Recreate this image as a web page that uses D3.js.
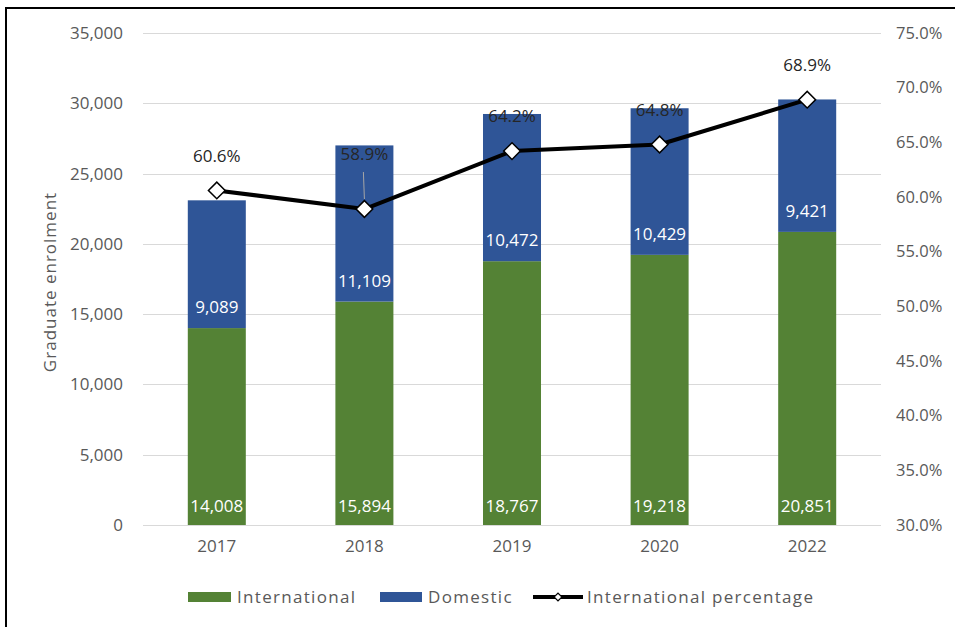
<!DOCTYPE html>
<html>
<head>
<meta charset="utf-8">
<script src="https://cdn.jsdelivr.net/npm/d3@7/dist/d3.min.js"></script>
<style>
  html, body { margin: 0; padding: 0; background: #fff; }
  svg { display: block; font-family: "Open Sans", "Noto Sans", sans-serif; }
</style>
</head>
<body>
<svg id="chart" width="955" height="627"></svg>
<script>
const years = ["2017", "2018", "2019", "2020", "2022"];
const international = [14008, 15894, 18767, 19218, 20851];
const domestic = [9089, 11109, 10472, 10429, 9421];
const intlPct = [60.6, 58.9, 64.2, 64.8, 68.9];
const leftTicks = [0, 5000, 10000, 15000, 20000, 25000, 30000, 35000];
const rightTicks = [30, 35, 40, 45, 50, 55, 60, 65, 70, 75];
const seriesNames = ["International", "Domestic", "International percentage"];

const colors = { intl: "#548235", dom: "#2F5597" };

const svg = d3.select("#chart");
const W = 955, H = 627;
svg.append("rect").attr("width", W).attr("height", H).attr("fill", "#fff");
// frame
svg.append("rect").attr("x", 6).attr("y", 8).attr("width", W + 10).attr("height", H + 10)
  .attr("fill", "none").attr("stroke", "#000").attr("stroke-width", 2);

const plot = { left: 143, right: 881, top: 33, bottom: 525 };

const x = d3.scaleBand().domain(years).range([plot.left, plot.right]).paddingInner(0.607).paddingOuter(0.3035);
const y = d3.scaleLinear().domain([0, 35000]).range([plot.bottom, plot.top]);
const y2 = d3.scaleLinear().domain([30, 75]).range([plot.bottom, plot.top]);

// gridlines
svg.append("g").selectAll("line").data(leftTicks).join("line")
  .attr("x1", plot.left).attr("x2", plot.right)
  .attr("y1", d => Math.round(y(d)) + 0.5).attr("y2", d => Math.round(y(d)) + 0.5)
  .attr("stroke", "#d9d9d9").attr("stroke-width", 1);

// left axis
const fmt = d3.format(",");
const leftAxis = svg.append("g").attr("transform", `translate(${plot.left},0)`)
  .call(d3.axisLeft(y).tickValues(leftTicks).tickFormat(fmt).tickSize(0).tickPadding(20));
leftAxis.select(".domain").remove();
leftAxis.selectAll("text").attr("font-size", 17).attr("fill", "#595959")
  .attr("font-family", "'Open Sans', sans-serif");

// right axis
const rightAxis = svg.append("g").attr("transform", `translate(${plot.right},0)`)
  .call(d3.axisRight(y2).tickValues(rightTicks).tickFormat(d => d3.format(".1f")(d) + "%").tickSize(0).tickPadding(15));
rightAxis.select(".domain").remove();
rightAxis.selectAll("text").attr("font-size", 16.5).attr("fill", "#595959")
  .attr("font-family", "'Open Sans', sans-serif");

// x axis
const xAxis = svg.append("g").attr("transform", `translate(0,${plot.bottom})`)
  .call(d3.axisBottom(x).tickSize(0).tickPadding(15));
xAxis.select(".domain").remove();
xAxis.selectAll("text").attr("font-size", 17).attr("fill", "#595959")
  .attr("font-family", "'Open Sans', sans-serif");

// y title
svg.append("text")
  .attr("transform", `translate(50,${(plot.top + plot.bottom) / 2 + 3}) rotate(-90)`)
  .attr("text-anchor", "middle").attr("dy", "0.35em")
  .attr("font-size", 17).attr("letter-spacing", "1px").attr("fill", "#595959")
  .text("Graduate enrolment");

// bars
const bw = x.bandwidth();
const gBars = svg.append("g");
years.forEach((yr, i) => {
  const x0 = x(yr);
  gBars.append("rect").attr("x", x0).attr("width", bw)
    .attr("y", y(international[i])).attr("height", y(0) - y(international[i]))
    .attr("fill", colors.intl);
  gBars.append("rect").attr("x", x0).attr("width", bw)
    .attr("y", y(international[i] + domestic[i])).attr("height", y(international[i]) - y(international[i] + domestic[i]))
    .attr("fill", colors.dom);
  // labels inside base
  gBars.append("text").attr("x", x0 + bw / 2).attr("y", y(0) - 19).attr("dy", "0.35em")
    .attr("text-anchor", "middle").attr("font-size", 17).attr("fill", "#fff")
    .text(fmt(international[i]));
  gBars.append("text").attr("x", x0 + bw / 2).attr("y", y(international[i]) - 21).attr("dy", "0.35em")
    .attr("text-anchor", "middle").attr("font-size", 17).attr("fill", "#fff")
    .text(fmt(domestic[i]));
});

// line
const cx = d => x(d) + bw / 2;
const line = d3.line().x((d, i) => cx(years[i])).y(d => y2(d));
svg.append("path").datum(intlPct).attr("d", line)
  .attr("fill", "none").attr("stroke", "#000").attr("stroke-width", 4).attr("stroke-linejoin", "round");

// percent label offsets (position config, not data)
const pctLabelOffset = [34, 55, 35, 34, 35];

// leader line for 2018
svg.append("line")
  .attr("x1", cx(years[1]) - 1).attr("x2", cx(years[1]))
  .attr("y1", y2(intlPct[1]) - 37).attr("y2", y2(intlPct[1]) - 10)
  .attr("stroke", "#a6a6a6").attr("stroke-width", 1);

svg.append("g").selectAll("path").data(intlPct).join("path")
  .attr("d", d3.symbol().type(d3.symbolSquare).size(140))
  .attr("transform", (d, i) => `translate(${cx(years[i])},${y2(d)}) rotate(45)`)
  .attr("fill", "#fff").attr("stroke", "#000").attr("stroke-width", 1.5);

svg.append("g").selectAll("text").data(intlPct).join("text")
  .attr("x", (d, i) => cx(years[i]))
  .attr("y", (d, i) => y2(d) - pctLabelOffset[i]).attr("dy", "0.35em")
  .attr("text-anchor", "middle").attr("font-size", 17).attr("fill", "#262626")
  .text(d => d3.format(".1f")(d) + "%");

// legend
const lg = svg.append("g").attr("font-size", 17).attr("fill", "#595959").attr("letter-spacing", "1.3px");
lg.append("rect").attr("x", 188).attr("y", 592).attr("width", 43).attr("height", 10).attr("fill", colors.intl);
lg.append("text").attr("x", 237).attr("y", 597).attr("dy", "0.35em").text(seriesNames[0]);
lg.append("rect").attr("x", 380).attr("y", 592).attr("width", 42).attr("height", 10).attr("fill", colors.dom);
lg.append("text").attr("x", 428).attr("y", 597).attr("dy", "0.35em").text(seriesNames[1]);
lg.append("line").attr("x1", 533).attr("x2", 583).attr("y1", 597).attr("y2", 597)
  .attr("stroke", "#000").attr("stroke-width", 4);
lg.append("path").attr("d", d3.symbol().type(d3.symbolSquare).size(30))
  .attr("transform", "translate(558,597) rotate(45)")
  .attr("fill", "#fff").attr("stroke", "#000").attr("stroke-width", 1.2);
lg.append("text").attr("x", 587).attr("y", 597).attr("dy", "0.35em").text(seriesNames[2]);
</script>
</body>
</html>
